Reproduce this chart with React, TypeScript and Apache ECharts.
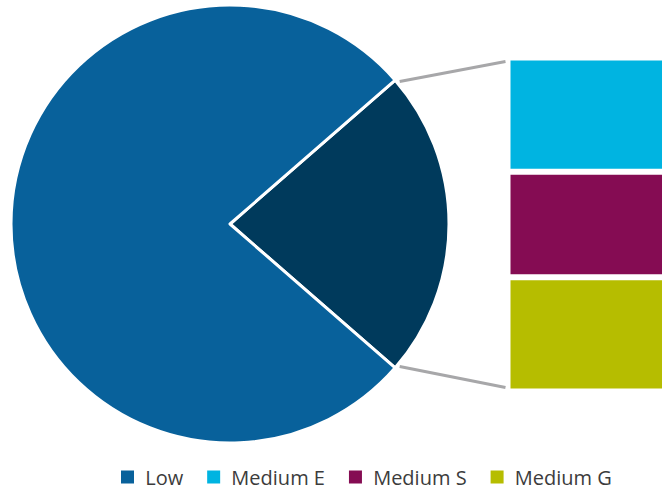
import React, { useEffect, useRef } from "react";
import * as echarts from "echarts";

const pieNames = ["Low"];
const lowValue = [77.2];
const mediumNames = ["Medium E", "Medium S", "Medium G"];
const mediumValues = [7.8, 7.2, 7.8];
const legendNames = ["Low", "Medium E", "Medium S", "Medium G"];

const colors: Record<string, string> = {
  Low: "#08619b",
  Medium: "#003a5c",
  "Medium E": "#00b4e1",
  "Medium S": "#850c53",
  "Medium G": "#b6bd00",
};

export default function App() {
  const ref = useRef<HTMLDivElement>(null);
  useEffect(() => {
    if (!ref.current) return;
    const chart = echarts.init(ref.current, undefined, { renderer: "svg" });
    const medTotal = mediumValues.reduce((a, b) => a + b, 0);
    const total = medTotal + lowValue[0];
    const half = (medTotal / total) * 180;
    const cx = 230, cy = 224, r = 219;
    const gridLeft = 507.5, gridTop = 57.5, gridH = 334;
    const rad = (half * Math.PI) / 180;
    const sx = cx + (r - 2) * Math.cos(rad) + 6;
    const syTop = cy - (r - 2) * Math.sin(rad);
    const syBot = cy + (r - 2) * Math.sin(rad);

    // stack bottom-up: G, S, E
    const order = [2, 1, 0];
    chart.setOption({
      animation: false,
      legend: {
        data: legendNames,
        left: 114,
        top: 461,
        padding: 5,
        icon: "rect",
        itemWidth: 15,
        itemHeight: 15,
        itemGap: 22,
        formatter: (n: string) => " " + n,
        textStyle: {
          fontFamily: "Open Sans",
          fontSize: 20,
          lineHeight: 22,
          color: "#3c3c3c",
        },
        selectedMode: false,
      },
      grid: { left: gridLeft, top: gridTop, width: 160, height: gridH, outerBoundsMode: "none", containLabel: false },
      xAxis: { type: "category", data: [""], show: false },
      yAxis: { type: "value", min: 0, max: medTotal, show: false },
      series: [
        {
          type: "pie",
          center: [cx, cy],
          radius: r,
          startAngle: half,
          clockwise: true,
          label: { show: false },
          labelLine: { show: false },
          emphasis: { disabled: true },
          itemStyle: { borderColor: "#fff", borderWidth: 3 },
          data: [
            { name: "Medium", value: medTotal, itemStyle: { color: colors.Medium } },
            { name: pieNames[0], value: lowValue[0], itemStyle: { color: colors.Low } },
          ],
        },
        ...order.map((i) => ({
          type: "bar",
          name: mediumNames[i],
          stack: "m",
          barWidth: "100%",
          data: [mediumValues[i]],
          itemStyle: { color: colors[mediumNames[i]], borderColor: "#fff", borderWidth: 3 },
          emphasis: { disabled: true },
        })),
      ],
      graphic: [
        {
          type: "line",
          shape: { x1: sx, y1: syTop, x2: gridLeft - 2, y2: gridTop + 4 },
          style: { stroke: "#a7a7a9", lineWidth: 3 },
        },
        {
          type: "line",
          shape: { x1: sx, y1: syBot, x2: gridLeft - 2, y2: gridTop + gridH - 4 },
          style: { stroke: "#a7a7a9", lineWidth: 3 },
        },
      ],
    });
    return () => chart.dispose();
  }, []);
  return <div ref={ref} style={{ width: 662, height: 490, position: "absolute", left: 0, top: 0 }} />;
}
